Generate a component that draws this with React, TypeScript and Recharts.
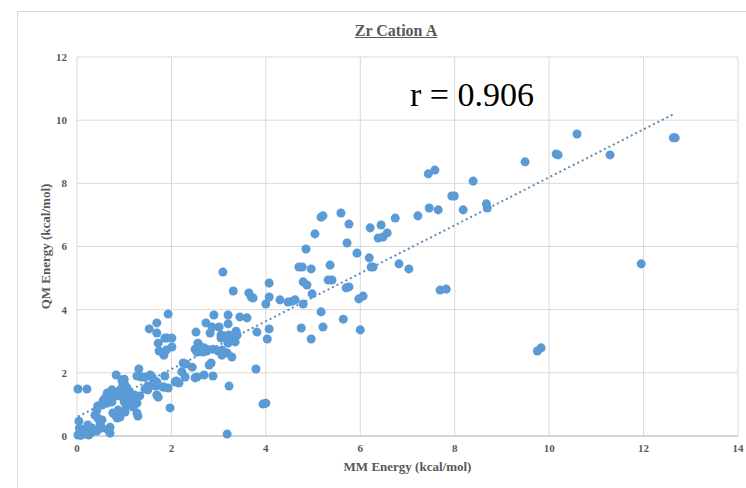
import React from 'react';
import {
  ScatterChart,
  Scatter,
  XAxis,
  YAxis,
  ZAxis,
  CartesianGrid,
  ReferenceLine,
} from 'recharts';

// MM vs QM conformer energies (kcal/mol), grouped by region of the plot
const highPoints: [number, number][] = [
  [12.63, 9.44], [12.67, 9.44], [10.59, 9.56], [10.15, 8.93], [10.19, 8.9],
  [11.29, 8.9], [9.49, 8.68], [8.39, 8.07], [7.44, 8.3], [7.58, 8.42],
  [7.94, 7.6], [7.99, 7.6], [7.46, 7.22], [7.65, 7.16], [8.18, 7.16],
  [8.67, 7.35], [8.69, 7.22], [7.22, 6.97], [11.95, 5.45], [9.75, 2.69],
  [9.83, 2.79], [7.69, 4.62], [7.82, 4.65],
];

const midPoints: [number, number][] = [
  [5.17, 6.93], [5.21, 6.97], [5.59, 7.06], [5.76, 6.71], [5.04, 6.4],
  [5.72, 6.11], [4.85, 5.92], [5.93, 5.79], [6.21, 6.59], [6.44, 6.68],
  [6.74, 6.9], [6.38, 6.27], [6.48, 6.3], [6.57, 6.43], [6.19, 5.64],
  [6.23, 5.35], [6.27, 5.35], [6.82, 5.45], [7.03, 5.29], [4.77, 5.35],
  [4.7, 5.35], [4.96, 5.29], [5.36, 5.41], [4.79, 4.88], [4.87, 4.78],
  [5.32, 4.94], [5.4, 4.94], [5.7, 4.69], [5.76, 4.72], [5.97, 4.34],
  [6.06, 4.43], [4.07, 4.84], [4.07, 4.4], [4.0, 4.18], [4.3, 4.31],
  [4.47, 4.24], [4.56, 4.27], [4.62, 4.31], [4.98, 4.5], [4.79, 4.18],
  [5.17, 3.93], [5.64, 3.7], [5.21, 3.45], [4.75, 3.42], [4.96, 3.07],
  [6.0, 3.36], [4.07, 3.39], [4.03, 3.07], [3.94, 1.01], [4.0, 1.04],
  [3.18, 0.06],
];

const lowerMidPoints: [number, number][] = [
  [3.09, 5.19], [3.31, 4.59], [3.64, 4.53], [3.69, 4.4], [3.73, 4.37],
  [2.9, 3.83], [3.2, 3.83], [3.45, 3.77], [3.6, 3.74], [2.73, 3.58],
  [2.86, 3.45], [3.01, 3.45], [3.2, 3.55], [2.52, 3.29], [2.82, 3.26],
  [3.05, 3.2], [3.11, 3.17], [3.05, 3.1], [3.14, 3.1], [3.22, 3.2],
  [3.18, 3.04], [3.24, 3.1], [3.37, 3.32], [3.39, 3.2], [3.35, 2.98],
  [3.2, 2.94], [3.81, 3.29], [3.31, 3.13], [2.56, 2.94], [2.58, 2.88],
  [2.61, 2.79], [2.69, 2.79], [2.75, 2.75], [2.5, 2.75], [2.54, 2.66],
  [2.67, 2.66], [2.75, 2.69], [2.88, 2.75], [2.99, 2.69], [3.07, 2.72],
  [3.07, 2.56], [3.11, 2.66], [3.18, 2.63], [3.28, 2.5], [3.79, 2.12],
  [3.22, 1.58], [2.25, 2.31], [2.31, 2.28], [2.22, 2.03], [2.44, 2.18],
  [2.5, 1.84], [2.69, 1.93], [2.88, 1.9], [2.8, 2.25], [2.84, 2.31],
  [2.1, 1.74], [2.16, 1.68], [1.86, 1.9], [1.82, 1.55], [1.93, 1.52],
  [1.67, 1.58], [1.59, 1.87], [1.55, 1.93], [1.69, 1.3], [1.93, 3.86],
  [1.69, 3.58], [1.53, 3.39], [1.69, 3.26], [1.86, 3.1], [1.91, 3.1],
  [2.01, 3.1], [1.72, 2.94], [1.74, 2.69], [1.82, 2.63], [1.84, 2.56],
  [1.89, 2.72], [2.01, 2.82], [1.97, 0.89], [1.29, 0.63], [2.29, 1.87],
  [2.54, 1.87],
];

const lowPoints: [number, number][] = [
  [0.02, 1.49], [0.21, 1.49], [0.83, 1.93], [1.31, 2.12], [0.95, 1.77],
  [1.36, 1.87], [1.44, 1.87], [1.63, 1.77], [1.69, 1.71], [1.5, 1.58],
  [1.84, 1.55], [2.08, 1.71], [0.91, 1.46], [0.97, 1.23], [0.85, 1.3],
  [1.0, 1.8], [0.97, 1.65], [1.02, 1.61], [1.06, 1.52], [1.61, 1.61],
  [1.44, 1.49], [1.5, 1.46], [1.72, 1.23], [1.27, 1.9], [0.87, 1.27],
  [0.95, 1.33], [1.04, 1.39], [1.12, 1.36], [1.21, 1.3], [1.06, 1.2],
  [1.17, 1.17], [1.25, 1.2], [1.0, 1.08], [1.08, 1.08], [1.14, 0.98],
  [1.27, 1.04], [1.04, 0.95], [1.19, 0.92], [1.33, 1.27], [0.74, 1.46],
  [0.76, 1.39], [0.64, 1.36], [0.68, 1.27], [0.59, 1.2], [0.72, 1.2],
  [0.55, 1.11], [0.64, 1.04], [0.74, 1.08], [0.44, 0.95], [0.53, 0.98],
  [0.87, 0.82], [0.76, 0.73], [0.81, 0.66], [0.42, 0.82], [0.38, 0.66],
  [0.44, 0.57], [0.53, 0.51], [0.49, 0.41], [0.85, 0.57], [0.91, 0.6],
  [1.27, 0.73], [1.02, 0.76], [0.04, 0.47], [0.23, 0.35], [0.32, 0.25],
  [0.42, 0.16], [0.53, 0.25], [0.66, 0.19], [0.7, 0.09], [0.49, 0.35],
  [0.7, 0.28],
];

const originPoints: [number, number][] = [
  [0.02, 0.03], [0.05, 0.08], [0.08, 0.12], [0.1, 0.05], [0.15, 0.1],
  [0.12, 0.2], [0.05, 0.25], [0.2, 0.05], [0.18, 0.18], [0.08, 0.02],
  [0.25, 0.03], [0.3, 0.1],
];

const xTicks = [0, 2, 4, 6, 8, 10, 12, 14];
const yTicks = [0, 2, 4, 6, 8, 10, 12];

const points = [...highPoints, ...midPoints, ...lowerMidPoints, ...lowPoints, ...originPoints].map(
  ([mm, qm]) => ({ mm, qm })
);

// least-squares trend line through the points
const n = points.length;
const meanX = points.reduce((s, p) => s + p.mm, 0) / n;
const meanY = points.reduce((s, p) => s + p.qm, 0) / n;
const sxy = points.reduce((s, p) => s + (p.mm - meanX) * (p.qm - meanY), 0);
const sxx = points.reduce((s, p) => s + (p.mm - meanX) ** 2, 0);
const slope = sxy / sxx;
const intercept = meanY - slope * meanX;
const minX = Math.min(...points.map((p) => p.mm));
const maxX = Math.max(...points.map((p) => p.mm));

const serif = '"Liberation Serif", "Times New Roman", serif';
const grey = '#595959';
const tickStyle = { fill: grey, fontSize: 11, fontWeight: 700, fontFamily: serif };

export default function App() {
  return (
    <div style={{ position: 'absolute', left: 0, top: 0, width: 746, height: 488, overflow: 'hidden', background: '#fff' }}>
      <div
        style={{
          position: 'absolute',
          left: 17,
          top: 11,
          width: 800,
          height: 600,
          border: '1px solid #d9d9d9',
        }}
      />
      <div
        style={{
          position: 'absolute',
          left: 0,
          top: 22,
          width: 792,
          textAlign: 'center',
          fontFamily: serif,
          fontWeight: 700,
          fontSize: 16,
          color: grey,
          textDecoration: 'underline',
        }}
      >
        Zr Cation A
      </div>
      <ScatterChart width={746} height={488} margin={{ top: 57, right: 8, bottom: 0, left: 0 }}>
        <CartesianGrid stroke="#d9d9d9" />
        <XAxis
          type="number"
          dataKey="mm"
          domain={[0, 14]}
          ticks={xTicks}
          height={52}
          axisLine={{ stroke: '#bfbfbf' }}
          tickLine={false}
          tickSize={0}
          tickMargin={8}
          tick={tickStyle}
          label={{
            value: 'MM Energy (kcal/mol)',
            position: 'insideBottom',
            offset: 17,
            style: { fill: grey, fontSize: 13, fontWeight: 700, fontFamily: serif },
          }}
        />
        <YAxis
          type="number"
          dataKey="qm"
          domain={[0, 12]}
          ticks={yTicks}
          width={77}
          axisLine={false}
          tickLine={false}
          tickSize={0}
          tickMargin={10}
          tick={tickStyle}
          label={{
            value: 'QM Energy (kcal/mol)',
            angle: -90,
            position: 'insideLeft',
            offset: 45,
            style: { fill: grey, fontSize: 13, fontWeight: 700, fontFamily: serif, textAnchor: 'middle' },
          }}
        />
        <ZAxis range={[40, 40]} />
        <ReferenceLine
          segment={[
            { x: minX, y: intercept + slope * minX },
            { x: maxX, y: intercept + slope * maxX },
          ]}
          stroke="#5f8bbd"
          strokeWidth={2}
          strokeDasharray="2 3"
        />
        <Scatter data={points} fill="#5b9bd5" isAnimationActive={false} />
      </ScatterChart>
      <div
        style={{
          position: 'absolute',
          left: 410,
          top: 76,
          fontFamily: serif,
          fontSize: 34,
          color: '#000',
          whiteSpace: 'nowrap',
        }}
      >
        r = 0.906
      </div>
    </div>
  );
}
